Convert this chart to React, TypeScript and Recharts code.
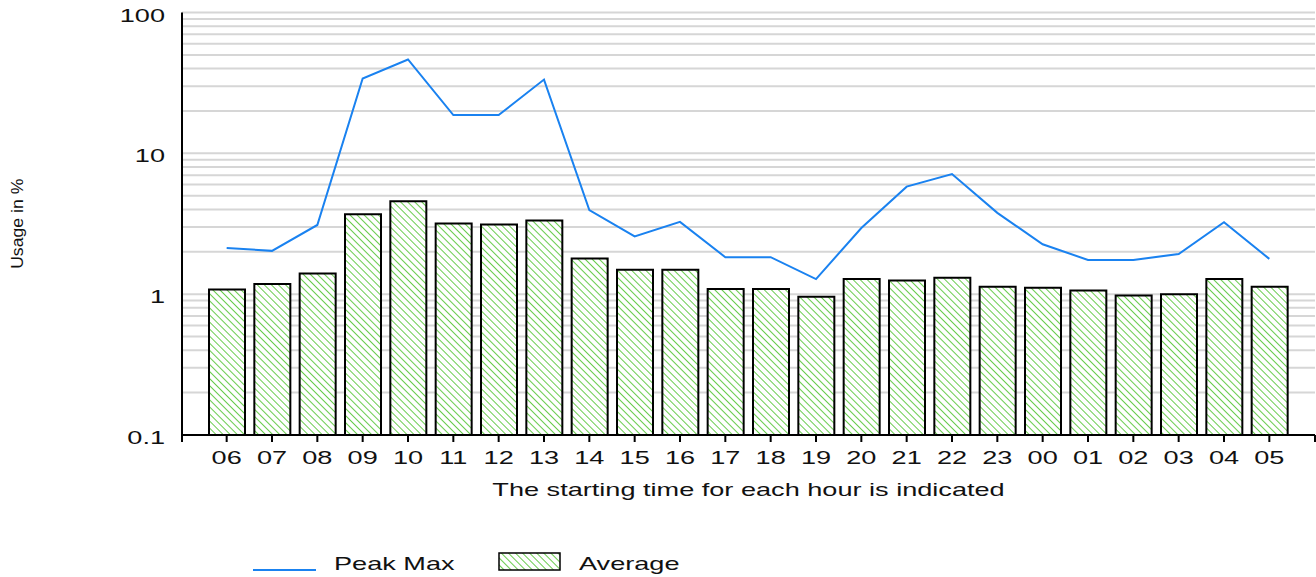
import {
  ComposedChart,
  Bar,
  Line,
  XAxis,
  YAxis,
  CartesianGrid,
  usePlotArea,
} from "recharts";

const HOURS = [
  "06", "07", "08", "09", "10", "11", "12", "13", "14", "15", "16", "17",
  "18", "19", "20", "21", "22", "23", "00", "01", "02", "03", "04", "05",
];

const AVERAGE = [
  1.08, 1.18, 1.4, 3.7, 4.56, 3.18, 3.12, 3.34, 1.79, 1.49, 1.49, 1.09,
  1.09, 0.96, 1.28, 1.25, 1.31, 1.13, 1.11, 1.06, 0.98, 1.0, 1.28, 1.13,
];

const PEAK_MAX = [
  2.13, 2.03, 3.1, 34.0, 46.4, 18.7, 18.7, 33.4, 3.95, 2.57, 3.26, 1.83,
  1.83, 1.28, 2.95, 5.8, 7.13, 3.78, 2.26, 1.75, 1.75, 1.93, 3.24, 1.78,
];

const Y_TICKS = [0.1, 1, 10, 100];
const Y_TICK_LABELS = ["0.1", "1", "10", "100"];
const GRID_VALUES = [
  0.2, 0.3, 0.4, 0.5, 0.6, 0.7, 0.8, 0.9, 1,
  2, 3, 4, 5, 6, 7, 8, 9, 10,
  20, 30, 40, 50, 60, 70, 80, 90, 100,
];

const LEGEND = [
  { key: "peak", label: "Peak Max" },
  { key: "avg", label: "Average" },
];

const FONT = "'Liberation Sans', Arial, sans-serif";
const STRETCH = 1.55;
const BLUE = "#1a82f0";
const GREEN = "#58c63a";

const data = HOURS.map((hour, i) => ({
  hour,
  avg: AVERAGE[i],
  peak: PEAK_MAX[i],
}));

function WideText({ x, y, anchor, children, size = 17.5 }: any) {
  return (
    <text
      transform={`translate(${x},${y}) scale(${STRETCH},1)`}
      textAnchor={anchor}
      fontFamily={FONT}
      fontSize={size}
      fill="#111"
    >
      {children}
    </text>
  );
}

function XTick({ x, y, payload }: any) {
  return (
    <WideText x={x} y={y + 14} anchor="middle">
      {payload.value}
    </WideText>
  );
}

function YTick({ x, y, payload }: any) {
  const idx = Y_TICKS.indexOf(payload.value);
  return (
    <WideText x={x} y={y + 9} anchor="end">
      {Y_TICK_LABELS[idx] ?? payload.value}
    </WideText>
  );
}

function XTitle({ viewBox }: any) {
  const cx = viewBox.x + viewBox.width / 2;
  return (
    <WideText x={cx} y={viewBox.y + 61} anchor="middle">
      The starting time for each hour is indicated
    </WideText>
  );
}

function YTitle({ viewBox }: any) {
  const cy = viewBox.y + viewBox.height / 2;
  return (
    <text
      transform={`translate(23,${cy}) rotate(-90) scale(1.07,1)`}
      textAnchor="middle"
      fontFamily={FONT}
      fontSize={16.5}
      fill="#111"
    >
      Usage in %
    </text>
  );
}

function AxisEndTicks() {
  const area = usePlotArea();
  if (!area) return null;
  const y = area.y + area.height;
  return (
    <g>
      {[area.x, area.x + area.width].map((x) => (
        <line key={x} x1={x} x2={x} y1={y} y2={y + 7} stroke="#000" strokeWidth={2} />
      ))}
    </g>
  );
}

function HatchPattern({ id }: { id: string }) {
  return (
    <pattern
      id={id}
      width={5}
      height={5}
      patternUnits="userSpaceOnUse"
      patternTransform="rotate(-45)"
    >
      <rect width={5} height={5} fill="#fff" />
      <line x1={0} y1={0} x2={0} y2={5} stroke={GREEN} strokeWidth={1.8} />
    </pattern>
  );
}

function ChartLegend() {
  return (
    <svg
      width={500}
      height={30}
      style={{ position: "absolute", left: 240, top: 547 }}
    >
      <defs>
        <HatchPattern id="hatchLegend" />
      </defs>
      {LEGEND.map((item) =>
        item.key === "peak" ? (
          <g key={item.key}>
            <line x1={13} x2={76} y1={23} y2={23} stroke={BLUE} strokeWidth={2} />
            <WideText x={94} y={23} anchor="start">
              {item.label}
            </WideText>
          </g>
        ) : (
          <g key={item.key}>
            <rect
              x={259}
              y={6}
              width={61}
              height={17}
              fill="url(#hatchLegend)"
              stroke="#000"
              strokeWidth={1.5}
            />
            <WideText x={339} y={23} anchor="start">
              {item.label}
            </WideText>
          </g>
        )
      )}
    </svg>
  );
}

export default function App() {
  return (
    <div
      style={{
        position: "absolute",
        left: 0,
        top: 0,
        width: 1316,
        height: 577,
        background: "#fff",
      }}
    >
      <ComposedChart
        width={1316}
        height={577}
        data={data}
        margin={{ top: 12.5, right: 1, bottom: 82, left: 0 }}
        barSize={36}
      >
        <defs>
          <HatchPattern id="hatch" />
        </defs>
        <CartesianGrid
          vertical={false}
          horizontalValues={GRID_VALUES}
          stroke="#d6d6d6"
          strokeWidth={2}
        />
        <XAxis
          dataKey="hour"
          height={60}
          padding={{ left: 22, right: 23 }}
          axisLine={{ stroke: "#000", strokeWidth: 2 }}
          tickLine={{ stroke: "#000", strokeWidth: 2 }}
          tickSize={7}
          tickMargin={8}
          interval={0}
          tick={<XTick />}
          label={{ content: <XTitle /> }}
        />
        <YAxis
          scale="log"
          domain={[0.1, 100]}
          ticks={Y_TICKS}
          allowDataOverflow
          width={182}
          axisLine={{ stroke: "#000", strokeWidth: 2 }}
          tickLine={false}
          tickSize={0}
          tickMargin={17}
          interval={0}
          tick={<YTick />}
          label={{ content: <YTitle /> }}
        />
        <Bar
          dataKey="avg"
          name="Average"
          fill="url(#hatch)"
          stroke="#000"
          strokeWidth={2}
          isAnimationActive={false}
        />
        <Line
          dataKey="peak"
          name="Peak Max"
          type="linear"
          stroke={BLUE}
          strokeWidth={2}
          dot={false}
          activeDot={false}
          isAnimationActive={false}
        />
        <AxisEndTicks />
      </ComposedChart>
      <ChartLegend />
    </div>
  );
}
